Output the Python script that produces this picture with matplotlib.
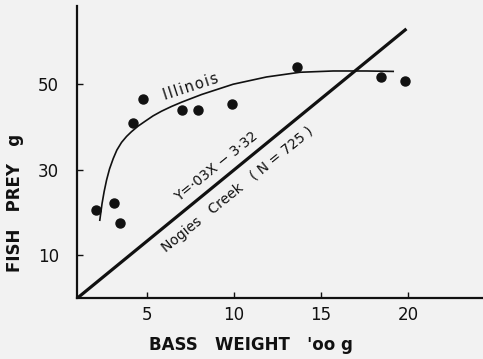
import matplotlib.pyplot as plt

# Poids du bar (centaines de g) et poids des proies (g), Illinois
bass_weight = [2.07, 3.10, 3.45, 4.16, 4.79, 6.98, 7.95, 9.87, 13.59, 18.45, 19.81]
fish_prey = [20.5, 22.2, 17.5, 40.9, 46.5, 43.9, 43.9, 45.4, 54.0, 51.6, 50.7]

# Courbe ajustée Illinois (lue point par point)
curve_x = [2.28, 2.41, 2.53, 2.67, 2.84, 3.05, 3.26, 3.53, 3.82, 4.10, 4.48,
           4.87, 5.34, 5.83, 6.40, 6.98, 8.13, 9.94, 11.86, 13.78, 15.69,
           17.61, 19.14]
curve_y = [18.2, 22.1, 24.9, 27.6, 30.2, 32.6, 34.6, 36.4, 37.8, 38.9, 40.2,
           41.3, 42.6, 43.7, 44.8, 45.8, 47.6, 50.0, 51.7, 52.8, 53.1,
           53.1, 53.0]

# Droite de régression Nogies Creek
line_x = [1.0, 19.9]
slope, intercept = 3.33, -3.32
line_y = [slope * x + intercept for x in line_x]

xticks = [5, 10, 15, 20]
yticks = [10, 30, 50]

bg = '#f2f2f2'
fig = plt.figure(figsize=(4.83, 3.59), dpi=100, facecolor=bg)
ax = fig.add_axes([77 / 483, 61 / 359, 406 / 483, 292 / 359], facecolor=bg)

ax.plot(line_x, line_y, color='#111111', lw=2.3, solid_capstyle='butt')
ax.plot(curve_x, curve_y, color='#111111', lw=1.2, solid_joinstyle='round')
ax.plot(bass_weight, fish_prey, 'o', color='#111111', ms=6.5)

ax.set_xlim(0.97, 24.3)
ax.set_ylim(0, 68.3)

for side in ['top', 'right']:
    ax.spines[side].set_visible(False)
for side in ['left', 'bottom']:
    ax.spines[side].set_linewidth(1.6)
    ax.spines[side].set_color('#111111')

ax.set_xticks(xticks)
ax.set_yticks(yticks)
ax.tick_params(direction='in', length=4, width=1, colors='#111111', labelsize=12)
ax.tick_params(axis='x', pad=6)
ax.tick_params(axis='y', pad=13)

# Annotations
hs = '\u200a'
ax.text(7.49, 49.5, hs.join('Illinois'), rotation=18, ha='center', va='center',
        fontsize=10.5, color='#111111')
ax.text(8.95, 30.6, 'Y=·03X − 3·32', rotation=39, ha='center', va='center',
        fontsize=10, color='#111111')
ax.text(10.2, 25.4, 'Nogies   Creek   ( N = 725 )', rotation=39, ha='center',
        va='center', fontsize=10, color='#111111')

# Titres des axes
fig.text(15 / 483, 1 - 203 / 359, 'FISH   PREY   g', rotation=90, ha='center',
         va='center', fontsize=12, fontweight='bold', color='#111111')
fig.text(251 / 483, 1 - 345 / 359, 'BASS   WEIGHT   \'oo g', ha='center',
         va='center', fontsize=12, fontweight='bold', color='#111111')

plt.savefig('out.png', dpi=100, facecolor=bg)
